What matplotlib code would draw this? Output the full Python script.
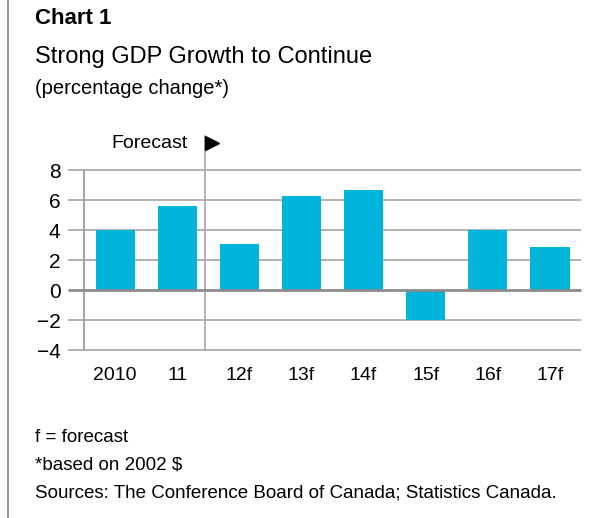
import matplotlib
matplotlib.use("Agg")
import matplotlib.pyplot as plt
from matplotlib.lines import Line2D

plt.rcParams['font.family'] = ['Liberation Sans Narrow', 'Liberation Sans', 'DejaVu Sans']

# Datos: variación porcentual anual del PIB
years = ['2010', '11', '12f', '13f', '14f', '15f', '16f', '17f']
growth = [4.0, 5.6, 3.1, 6.3, 6.7, -2.0, 4.0, 2.9]
y_ticks = [8, 6, 4, 2, 0, -2, -4]
y_tick_labels = ['8', '6', '4', '2', '0', '\u22122', '\u22124']
forecast_at = 1.45   # separación entre datos reales y previsiones

BAR_COLOR = '#00b4dc'
GRID_COLOR = '#a6a6a6'

fig = plt.figure(figsize=(5.98, 5.18), dpi=100)
ax = fig.add_axes([0.1405, 0.3243, 0.8311, 0.3475])

x = list(range(len(years)))
ax.bar(x, growth, width=0.63, color=BAR_COLOR, zorder=2)

ax.set_xlim(-0.5, 7.5)
ax.set_ylim(-4, 8)

# Rejilla horizontal que sobresale a la izquierda del eje
for v in y_ticks:
    ax.plot([-0.76, 7.5], [v, v], color='#8c8c8c' if v == 0 else GRID_COLOR,
            lw=2.0 if v == 0 else 1.2, zorder=3 if v == 0 else 1, clip_on=False,
            solid_capstyle='butt')

ax.set_yticks(y_ticks)
ax.set_yticklabels(y_tick_labels, fontsize=15)
ax.tick_params(axis='y', length=0, pad=17)
ax.set_xticks(x)
ax.set_xticklabels(years, fontsize=14)
ax.tick_params(axis='x', length=0, pad=12)

for s in ax.spines.values():
    s.set_visible(False)
ax.plot([-0.5, -0.5], [-4, 8], color=GRID_COLOR, lw=1.5, clip_on=False, zorder=1)

# Línea de previsión y rótulo
ax.plot([forecast_at, forecast_at], [-4, 10.3], color=GRID_COLOR, lw=1.2,
        clip_on=False, zorder=1)
ax.text(forecast_at - 0.28, 9.8, 'Forecast', fontsize=14, ha='right', va='center')
ax.plot([forecast_at + 0.11], [9.8], marker='>', ms=10, color='black', clip_on=False)

# Títulos y notas
fig.text(35 / 598, 1 - 18 / 518, 'Chart 1', fontsize=16, fontweight='bold', va='center')
fig.text(35 / 598, 1 - 57 / 518, 'Strong GDP Growth to Continue', fontsize=17, va='center')
fig.text(35 / 598, 1 - 88 / 518, '(percentage change*)', fontsize=14.5, va='center')
fig.text(35 / 598, 1 - 438 / 518, 'f = forecast', fontsize=13.5, va='center')
fig.text(35 / 598, 1 - 465 / 518, '*based on 2002 $', fontsize=13.5, va='center')
fig.text(35 / 598, 1 - 493 / 518, 'Sources: The Conference Board of Canada; Statistics Canada.',
         fontsize=13.5, va='center')

# Filete vertical a la izquierda
fig.add_artist(Line2D([8 / 598, 8 / 598], [0, 1], color='#999999', lw=1.5))

fig.savefig('out.png', dpi=100)
